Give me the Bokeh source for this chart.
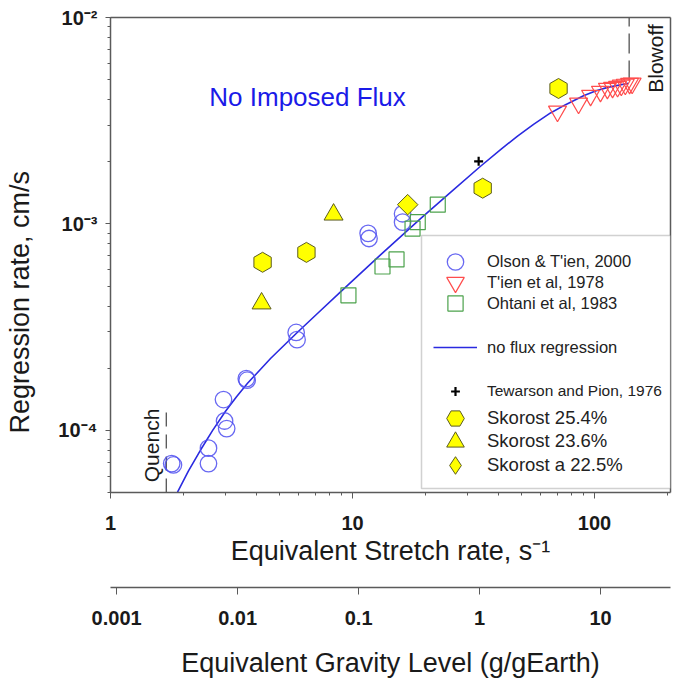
import numpy as np
from bokeh.plotting import figure
from bokeh.layouts import column
from bokeh.models import (Range1d, LinearAxis, FixedTicker, CustomJSTickFormatter,
                          Legend, LegendItem, BoxAnnotation, Label)
from bokeh.embed import file_html
from bokeh.resources import INLINE

# ---------------- data ----------------
olson_x = [1.79, 1.82, 2.54, 2.54, 2.93, 2.96, 3.02, 3.64, 3.67, 5.85, 5.90, 11.6, 11.7, 16.1, 16.1]
olson_y = [6.9e-5, 6.8e-5, 8.2e-5, 6.9e-5, 1.41e-4, 1.11e-4, 1.02e-4, 1.78e-4, 1.75e-4,
           2.98e-4, 2.75e-4, 9.0e-4, 8.5e-4, 1.12e-3, 1.02e-3]

tien_x = [70.3, 85.9, 96.3, 105.8, 113.0, 118.7, 124.5, 129.0, 134.0, 139.6, 143.0]
tien_y = [3.51e-3, 3.84e-3, 4.19e-3, 4.38e-3, 4.53e-3, 4.58e-3, 4.63e-3, 4.69e-3, 4.74e-3, 4.79e-3, 4.80e-3]

ohtani_x = [9.62, 13.3, 15.2, 17.7, 18.6, 22.5]
ohtani_y = [4.51e-4, 6.22e-4, 6.73e-4, 9.5e-4, 1.02e-3, 1.24e-3]

tewarson_x = [33.2]
tewarson_y = [2.01e-3]

sk254_x = [4.25, 6.45, 34.5, 71.0]
sk254_y = [6.52e-4, 7.28e-4, 1.49e-3, 4.53e-3]
sk236_x = [4.21, 8.35]
sk236_y = [4.12e-4, 1.11e-3]
sk225_x = [16.9]
sk225_y = [1.24e-3]

fit_x = [1.892, 2.100, 2.355, 2.639, 2.987, 3.317, 3.683, 4.584, 5.925, 7.236, 8.922, 13.05,
         19.10, 25.41, 33.81, 40.9, 48.07, 55.97, 65.79, 75.91, 90.05, 100.9, 113.2, 138.2]
fit_y = [5.02e-5, 6.37e-5, 8.03e-5, 9.97e-5, 1.238e-4, 1.456e-4, 1.691e-4, 2.228e-4, 2.986e-4,
         3.723e-4, 4.685e-4, 7.078e-4, 1.060e-3, 1.421e-3, 1.903e-3, 2.290e-3, 2.665e-3,
         3.036e-3, 3.448e-3, 3.782e-3, 4.176e-3, 4.406e-3, 4.587e-3, 4.806e-3]

# limits / annotation anchors
stretch_range = (1.0, 206.0)
rate_range = (5.0e-5, 1.0e-2)
gravity_range = (8.9e-4, 37.8)
quench_x = 1.70
quench_y = (5.0e-5, 1.32e-4)
blowoff_x = 139.0
blowoff_y = (4.95e-3, 1.0e-2)

FONT = "Liberation Sans"
TXT = "#1a1a1a"
AX = "#5a5a5a"

W = 690
FRAME_L, FRAME_T, FRAME_R, FRAME_B = 110, 17, 670, 492
H1 = 586            # main figure height
H2 = 681 - H1       # gravity-axis strip

p = figure(width=W, height=H1, x_axis_type="log", y_axis_type="log",
           x_range=Range1d(*stretch_range), y_range=Range1d(*rate_range),
           output_backend="svg", toolbar_location=None,
           min_border_left=FRAME_L, min_border_right=W - FRAME_R,
           min_border_top=FRAME_T, min_border_bottom=H1 - FRAME_B)
p.outline_line_color = None
p.grid.visible = False

num_fmt = CustomJSTickFormatter(code="return Number(tick.toPrecision(6)).toString();")

# ---------------- main x axis (stretch rate) ----------------
xa = p.xaxis[0]
xa.formatter = num_fmt
xa.axis_line_color = AX
xa.axis_line_width = 1.5
xa.major_tick_line_color = AX
xa.minor_tick_line_color = AX
xa.major_tick_out = 6
xa.major_tick_in = 0
xa.minor_tick_out = 3
xa.minor_tick_in = 0
xa.major_label_standoff = 17
xa.major_label_text_font = FONT
xa.major_label_text_font_style = "bold"
xa.major_label_text_font_size = "20px"
xa.major_label_text_color = TXT
xa.axis_label = "Equivalent Stretch rate, s⁻¹"
xa.axis_label_text_font = FONT
xa.axis_label_text_font_style = "normal"
xa.axis_label_text_font_size = "27px"
xa.axis_label_text_color = TXT
xa.axis_label_standoff = 3

# ---------------- y axis ----------------
ya = p.yaxis[0]
ya.formatter = CustomJSTickFormatter(code="""
const e = Math.round(Math.log10(tick));
const m = {"-":"\u207b","0":"\u2070","1":"\u00b9","2":"\u00b2","3":"\u00b3","4":"\u2074",
           "5":"\u2075","6":"\u2076","7":"\u2077","8":"\u2078","9":"\u2079"};
return "10" + String(e).split("").map(c => m[c]).join("");
""")
ya.axis_line_color = AX
ya.axis_line_width = 1.5
ya.major_tick_line_color = AX
ya.minor_tick_line_color = AX
ya.major_tick_out = 5
ya.major_tick_in = 0
ya.minor_tick_out = 3
ya.minor_tick_in = 0
ya.major_label_standoff = 8
ya.major_label_text_font = FONT
ya.major_label_text_font_style = "bold"
ya.major_label_text_font_size = "20px"
ya.major_label_text_color = TXT
# trailing em-spaces push the visible title below the frame centre, as in the original
ya.axis_label = "Regression rate, cm/s" + "\u2003\u2003\u2003\u2002"
ya.axis_label_text_font = FONT
ya.axis_label_text_font_style = "normal"
ya.axis_label_text_font_size = "27px"
ya.axis_label_text_color = TXT
ya.axis_label_standoff = 20

# frame lines on top and right
for side in ("above", "right"):
    fa = LinearAxis(ticker=FixedTicker(ticks=[]), axis_line_color=AX, axis_line_width=1.5,
                    major_tick_out=0, minor_tick_out=0, major_tick_in=0, minor_tick_in=0,
                    major_label_text_font_size="0px")
    p.add_layout(fa, side)

# ---------------- glyphs ----------------
r_fit = p.line(fit_x, fit_y, line_color="#2a2ae0", line_width=1.6)

p.segment(x0=[quench_x], y0=[quench_y[0]], x1=[quench_x], y1=[quench_y[1]],
          line_color="#444444", line_width=1.2, line_dash="14 8")
p.segment(x0=[blowoff_x], y0=[blowoff_y[0]], x1=[blowoff_x], y1=[blowoff_y[1]],
          line_color="#444444", line_width=1.2, line_dash="20 7")

r_olson = p.scatter(olson_x, olson_y, marker="circle", size=16.5, fill_color=None,
                    line_color="#4f4ff0", line_alpha=0.85, line_width=1.3)
r_tien = p.scatter(tien_x, tien_y, marker="inverted_triangle", size=18, fill_color=None,
                   line_color="#ff4d4d", line_width=1.2)
r_ohtani = p.scatter(ohtani_x, ohtani_y, marker="square", size=15, fill_color=None,
                     line_color="#4ca24c", line_width=1.2)
r_tew = p.scatter(tewarson_x, tewarson_y, marker="cross", size=9, line_color="black", line_width=2.2)
YEL, YEL_LINE = "#ffff00", "#5c5c1f"
r_sk254 = p.scatter(sk254_x, sk254_y, marker="hex", angle=np.pi / 2, size=20,
                    fill_color=YEL, line_color=YEL_LINE, line_width=1)
r_sk236 = p.scatter(sk236_x, sk236_y, marker="triangle", size=19,
                    fill_color=YEL, line_color=YEL_LINE, line_width=1)
# legend swatch for the diamond (legend glyphs are drawn unrotated); hidden under the real mark
r_sk225_key = p.scatter(sk225_x, sk225_y, marker="diamond", size=19,
                        fill_color=YEL, line_color=YEL_LINE, line_width=1)
r_sk225 = p.scatter(sk225_x, sk225_y, marker="square", angle=np.pi / 4, size=14.5,
                    fill_color=YEL, line_color=YEL_LINE, line_width=1)

# ---------------- text annotations ----------------
p.add_layout(Label(x=2.56, y=4.14e-3, text="No Imposed Flux", text_font=FONT,
                   text_font_size="26px", text_color="#1a1ae8",
                   text_align="left", text_baseline="middle"))
p.add_layout(Label(x=178.6, y=6.33e-3, text="Blowoff", angle=np.pi / 2, text_font=FONT,
                   text_font_size="21px", text_color=TXT,
                   text_align="center", text_baseline="middle"))
p.add_layout(Label(x=1.477, y=8.45e-5, text="Quench", angle=np.pi / 2, text_font=FONT,
                   text_font_size="21px", text_color=TXT,
                   text_align="center", text_baseline="middle"))

# ---------------- legend ----------------
box = BoxAnnotation(left=421 - FRAME_L, right=FRAME_R - FRAME_L,
                    bottom=FRAME_B - 488, top=FRAME_B - 235,
                    left_units="screen", right_units="screen",
                    top_units="screen", bottom_units="screen",
                    fill_color="white", fill_alpha=1.0, line_color="#666666", line_width=1.5)
p.add_layout(box)

GLYPH_LEFT = 433


def add_key(label, renderer, center, glyph_h, font_px):
    loc = (GLYPH_LEFT - FRAME_L, FRAME_B - (center + glyph_h / 2))
    leg = Legend(items=[LegendItem(label=label, renderers=[renderer])],
                 location=loc, orientation="vertical",
                 glyph_width=44, glyph_height=glyph_h, label_height=glyph_h,
                 spacing=0, padding=0, margin=0, label_standoff=10,
                 border_line_color=None, background_fill_alpha=0.0,
                 label_text_font=FONT, label_text_font_size=f"{font_px}px",
                 label_text_color="#222222")
    p.add_layout(leg)


add_key("Olson & T'ien, 2000", r_olson, 261, 41, 16.5)
add_key("T'ien et al, 1978", r_tien, 282, 44, 16.5)
add_key("Ohtani et al, 1983", r_ohtani, 303, 38, 16.5)
add_key("no flux regression", r_fit, 347, 24, 16.5)
add_key("Tewarson and Pion, 1976", r_tew, 391, 22, 15.5)
add_key("Skorost 25.4%", r_sk254, 418, 46, 18.5)
add_key("Skorost 23.6%", r_sk236, 441, 45, 18.5)
add_key("Skorost a 22.5%", r_sk225_key, 465, 52, 18.5)

# ---------------- gravity axis strip ----------------
g = figure(width=W, height=H2, x_axis_type="log", x_range=Range1d(*gravity_range),
           y_range=Range1d(0, 1), y_axis_location=None,
           output_backend="svg", toolbar_location=None,
           min_border_left=FRAME_L, min_border_right=W - FRAME_R,
           min_border_top=0, min_border_bottom=H2 - 1)
g.outline_line_color = None
g.grid.visible = False
ga = g.xaxis[0]
ga.formatter = num_fmt
ga.axis_line_color = AX
ga.axis_line_width = 1.5
ga.major_tick_line_color = AX
ga.minor_tick_line_color = None
ga.major_tick_out = 7
ga.major_tick_in = 0
ga.major_label_standoff = 16
ga.major_label_text_font = FONT
ga.major_label_text_font_style = "bold"
ga.major_label_text_font_size = "20px"
ga.major_label_text_color = TXT
ga.axis_label = "Equivalent Gravity Level (g/gEarth)"
ga.axis_label_text_font = FONT
ga.axis_label_text_font_style = "normal"
ga.axis_label_text_font_size = "27px"
ga.axis_label_text_color = TXT
ga.axis_label_standoff = 20

layout = column(p, g, spacing=0)
open("out.html", "w", encoding="utf-8").write(file_html(layout, INLINE))
